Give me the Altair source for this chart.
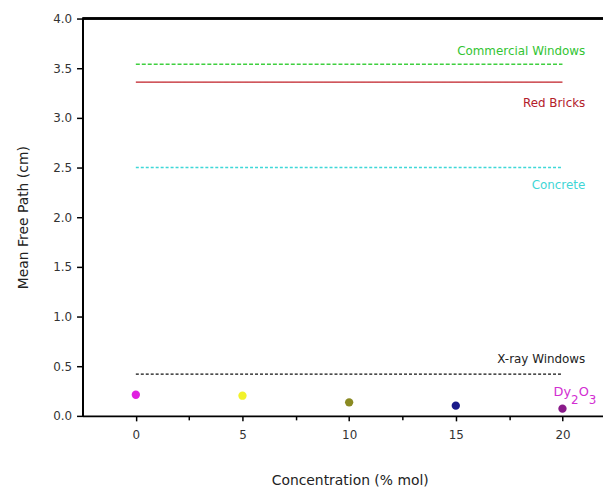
import altair as alt
import pandas as pd

# ---- data ----
materials = ["Commercial Windows", "Red Bricks", "Concrete", "X-ray Windows"]
material_mfp = [3.54, 3.36, 2.50, 0.42]
line_from = [0, 0, 0, 0]
line_to = [20, 20, 20, 20]

concentration = [0, 5, 10, 15, 20]
glass_mfp = [0.213, 0.203, 0.136, 0.103, 0.073]
glass_label_parts = ["Dy", "2", "O", "3"]

x_tick_values = [0, 2.5, 5, 7.5, 10, 12.5, 15, 17.5, 20]
y_tick_values = [i * 0.25 for i in range(17)]
x_domain = [-2.5, 21.9]
y_domain = [0.0, 4.0]

# ---- styles ----
line_colors = ["#3fcf3f", "#c01e26", "#3fd8d8", "#111111"]
line_dashes = [[4, 2], [1, 0], [3, 2], [3, 2]]
label_colors = ["#33c433", "#b3202a", "#3fd6d6", "#222222"]
label_dy = [-13, 21, 18, -15]
point_colors = ["#e020e0", "#f2f22a", "#8a8a22", "#1a1a8a", "#8a1a8a"]
part_dx = [-9, 8.5, 16.5, 26.5]
part_dy = [-17, -9, -17, -9]
part_size = [13, 12, 13, 12]
FONT = "DejaVu Sans"

lines_df = pd.DataFrame({"material": materials, "mfp": material_mfp,
                         "x0": line_from, "x1": line_to})
pts_df = pd.DataFrame({"conc": concentration, "mfp": glass_mfp,
                       "key": [str(c) for c in concentration]})

xscale = alt.Scale(domain=x_domain, nice=False, zero=False)
yscale = alt.Scale(domain=y_domain, nice=False, zero=False)

x_axis = alt.Axis(
    title="Concentration (% mol)", values=x_tick_values,
    labelExpr="datum.value % 5 === 0 ? format(datum.value, 'd') : ''",
    tickSize={"condition": {"test": "datum.value % 5 === 0", "value": 5}, "value": 4},
    grid=False, labelPadding=9, titlePadding=33, titleX=269,
)
y_axis = alt.Axis(
    title="Mean Free Path (cm)", values=y_tick_values,
    labelExpr="round(datum.value * 4) % 2 === 0 ? format(datum.value, '.1f') : ''",
    tickSize={"condition": {"test": "round(datum.value * 4) % 2 === 0", "value": 6}, "value": 4},
    grid=False, labelPadding=5, titlePadding=22,
)

rules = alt.Chart(lines_df).mark_rule(strokeWidth=1.4).encode(
    x=alt.X("x0:Q", scale=xscale, axis=x_axis),
    x2="x1:Q",
    y=alt.Y("mfp:Q", scale=yscale, axis=y_axis),
    color=alt.Color("material:N", scale=alt.Scale(domain=materials, range=line_colors), legend=None),
    strokeDash=alt.StrokeDash("material:N", scale=alt.Scale(domain=materials, range=line_dashes), legend=None),
)

top_rule = alt.Chart(lines_df).mark_rule(color="black", strokeWidth=2).encode(
    y=alt.datum(y_domain[1], scale=yscale)
)

labels = []
for i, m in enumerate(materials):
    labels.append(
        alt.Chart(lines_df).transform_filter(alt.datum.material == m)
        .mark_text(align="right", baseline="middle", dx=23, dy=label_dy[i],
                   font=FONT, fontSize=12, color=label_colors[i])
        .encode(x=alt.X("x1:Q", scale=xscale), y=alt.Y("mfp:Q", scale=yscale), text="material:N")
    )

points = alt.Chart(pts_df).mark_circle(size=70, opacity=1).encode(
    x=alt.X("conc:Q", scale=xscale),
    y=alt.Y("mfp:Q", scale=yscale),
    color=alt.Color("key:N", scale=alt.Scale(domain=[str(c) for c in concentration], range=point_colors), legend=None),
)

glass_texts = []
for i, part in enumerate(glass_label_parts):
    glass_texts.append(
        alt.Chart(pts_df).transform_filter(alt.datum.conc == concentration[-1]).transform_calculate(
            lab=f"'{part}'"
        ).mark_text(align="left", baseline="middle", dx=part_dx[i], dy=part_dy[i], font=FONT,
                    fontSize=part_size[i], color="#d22ed2").encode(
            x=alt.X("conc:Q", scale=xscale), y=alt.Y("mfp:Q", scale=yscale), text="lab:N"
        )
    )

chart = alt.layer(rules, top_rule, *labels, points, *glass_texts).resolve_scale(
    color="independent", strokeDash="independent"
).properties(
    width=524, height=400,
    autosize="none",
    padding={"left": 75, "top": 9, "right": 0, "bottom": 74},
).configure_view(stroke=None).configure_axis(
    domainColor="black", domainWidth=2, tickColor="black", tickWidth=1.5,
    labelFont=FONT, labelFontSize=12, labelColor="#333333", labelPadding=3,
    titleFont=FONT, titleFontSize=14, titleFontWeight="normal", titleColor="#222222",
)

chart.save("out.html", embed_options={"renderer": "svg", "actions": False})
